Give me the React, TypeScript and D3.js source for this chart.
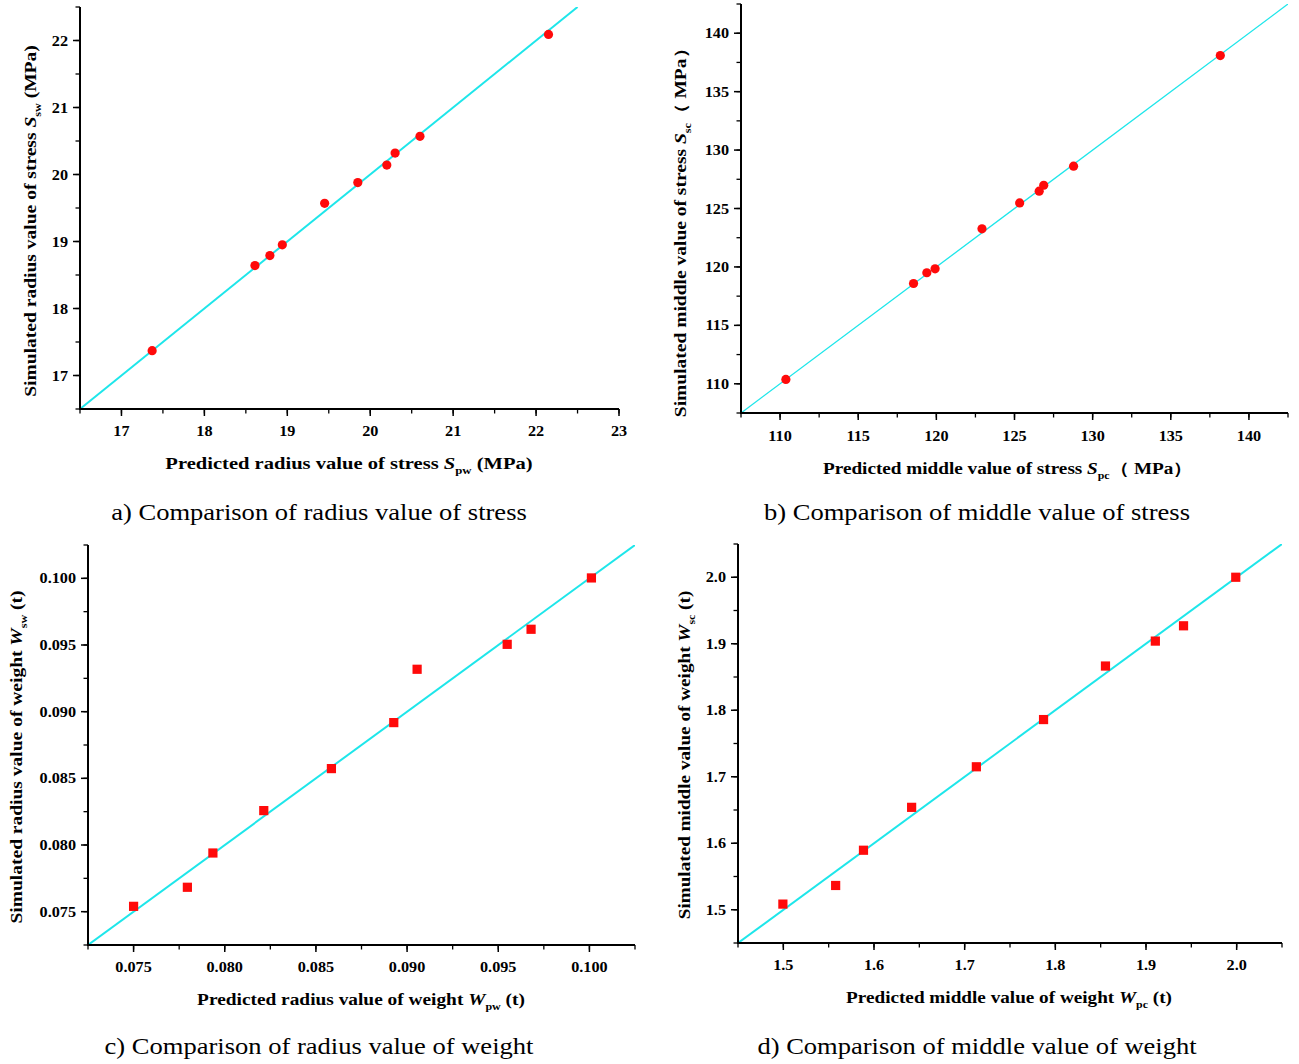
import React from "react";
import * as d3 from "d3";

// ---- data ----
const radiusStressPredicted = [17.37, 18.61, 18.79, 18.94, 19.45, 19.85, 20.2, 20.3, 20.6, 22.15];
const radiusStressSimulated = [17.37, 18.64, 18.79, 18.95, 19.57, 19.88, 20.14, 20.32, 20.57, 22.09];
const middleStressPredicted = [110.37, 118.54, 119.39, 119.92, 122.92, 125.33, 126.58, 126.87, 128.78, 138.17];
const middleStressSimulated = [110.37, 118.58, 119.5, 119.84, 123.26, 125.48, 126.48, 126.99, 128.62, 138.09];
const radiusWeightPredicted = [0.075, 0.07795, 0.07935, 0.08214, 0.08585, 0.08927, 0.09055, 0.09549, 0.0968, 0.10011];
const radiusWeightSimulated = [0.0754, 0.07683, 0.0794, 0.08258, 0.08573, 0.08918, 0.09318, 0.09505, 0.09618, 0.10003];
const middleWeightPredicted = [1.4995, 1.5577, 1.5884, 1.6415, 1.7129, 1.787, 1.8553, 1.9103, 1.9414, 1.999];
const middleWeightSimulated = [1.5085, 1.5365, 1.5895, 1.654, 1.715, 1.786, 1.8665, 1.904, 1.927, 2.0];

const radiusStressXTicks = [17, 18, 19, 20, 21, 22, 23];
const radiusStressYTicks = [17, 18, 19, 20, 21, 22];
const middleStressTicks = [110, 115, 120, 125, 130, 135, 140];
const radiusWeightTicks = [0.075, 0.08, 0.085, 0.09, 0.095, 0.1];
const middleWeightTicks = [1.5, 1.6, 1.7, 1.8, 1.9, 2.0];

const captions = [
  "a) Comparison of radius value of stress",
  "b) Comparison of middle value of stress",
  "c) Comparison of radius value of weight",
  "d) Comparison of middle value of weight",
];

const SERIF = "'Liberation Serif', 'Times New Roman', serif";
const CYAN = "#1ee6ea";
const RED = "#ff0a0a";

type Title = { pre: string; sym: string; sub: string; post: string };

type PanelCfg = {
  id: string;
  xs: number[];
  ys: number[];
  xDomain: [number, number];
  yDomain: [number, number];
  xTicks: number[];
  yTicks: number[];
  minorStep: number;
  fmt: (v: number) => string;
  left: number;
  right: number;
  top: number;
  bottom: number;
  marker: "circle" | "square";
  lineWidth: number;
  xTitle: Title;
  yTitle: Title;
  xTitleX: number;
  xTitleY: number;
  yTitleX: number;
  yTitleY: number;
  titleSize: number;
  xTitleStretch: number;
  yTitleStretch: number;
  tickBaseline: number;
  caption: string;
  capX: number;
  capY: number;
};

const panels: PanelCfg[] = [
  {
    id: "a",
    xs: radiusStressPredicted,
    ys: radiusStressSimulated,
    xDomain: [16.5, 23],
    yDomain: [16.5, 22.5],
    xTicks: radiusStressXTicks,
    yTicks: radiusStressYTicks,
    minorStep: 0.5,
    fmt: d3.format("d"),
    left: 80, right: 619, top: 7, bottom: 409,
    marker: "circle",
    lineWidth: 2,
    xTitle: { pre: "Predicted radius value of stress ", sym: "S", sub: "pw", post: " (MPa)" },
    yTitle: { pre: "Simulated radius value of stress ", sym: "S", sub: "sw", post: " (MPa)" },
    xTitleX: 349, xTitleY: 469, yTitleX: 36, yTitleY: 221,
    titleSize: 17, xTitleStretch: 1.21, yTitleStretch: 1.15,
    tickBaseline: 27,
    caption: captions[0], capX: 319, capY: 520,
  },
  {
    id: "b",
    xs: middleStressPredicted,
    ys: middleStressSimulated,
    xDomain: [107.5, 142.5],
    yDomain: [107.5, 142.5],
    xTicks: middleStressTicks,
    yTicks: middleStressTicks,
    minorStep: 2.5,
    fmt: d3.format("d"),
    left: 741, right: 1288, top: 4, bottom: 413,
    marker: "circle",
    lineWidth: 1.3,
    xTitle: { pre: "Predicted middle value of stress ", sym: "S", sub: "pc", post: "（ MPa）" },
    yTitle: { pre: "Simulated middle value of stress ", sym: "S", sub: "sc", post: "（ MPa）" },
    xTitleX: 1008, xTitleY: 474, yTitleX: 686, yTitleY: 228,
    titleSize: 16, xTitleStretch: 1.2, yTitleStretch: 1.22,
    tickBaseline: 28,
    caption: captions[1], capX: 977, capY: 520,
  },
  {
    id: "c",
    xs: radiusWeightPredicted,
    ys: radiusWeightSimulated,
    xDomain: [0.0725, 0.1025],
    yDomain: [0.0725, 0.1025],
    xTicks: radiusWeightTicks,
    yTicks: radiusWeightTicks,
    minorStep: 0.0025,
    fmt: d3.format(".3f"),
    left: 88, right: 635, top: 545, bottom: 945,
    marker: "square",
    lineWidth: 2,
    xTitle: { pre: "Predicted radius value of weight ", sym: "W", sub: "pw", post: " (t)" },
    yTitle: { pre: "Simulated radius value of weight ", sym: "W", sub: "sw", post: " (t)" },
    xTitleX: 361, xTitleY: 1005, yTitleX: 22, yTitleY: 757,
    titleSize: 16, xTitleStretch: 1.21, yTitleStretch: 1.22,
    tickBaseline: 27,
    caption: captions[2], capX: 319, capY: 1054,
  },
  {
    id: "d",
    xs: middleWeightPredicted,
    ys: middleWeightSimulated,
    xDomain: [1.45, 2.05],
    yDomain: [1.45, 2.05],
    xTicks: middleWeightTicks,
    yTicks: middleWeightTicks,
    minorStep: 0.05,
    fmt: d3.format(".1f"),
    left: 738, right: 1282, top: 544, bottom: 943,
    marker: "square",
    lineWidth: 2,
    xTitle: { pre: "Predicted middle value of weight ", sym: "W", sub: "pc", post: " (t)" },
    yTitle: { pre: "Simulated middle value of weight ", sym: "W", sub: "sc", post: " (t)" },
    xTitleX: 1009, xTitleY: 1003, yTitleX: 690, yTitleY: 755,
    titleSize: 16, xTitleStretch: 1.2, yTitleStretch: 1.2,
    tickBaseline: 27,
    caption: captions[3], capX: 977, capY: 1054,
  },
];

function TitleText({ t, size, x, y, rotate, stretch }: { t: Title; size: number; x: number; y: number; rotate?: boolean; stretch: number }) {
  const subSize = size * 0.62;
  const tf = `translate(${x},${y})${rotate ? " rotate(-90)" : ""} scale(${stretch},1)`;
  return (
    <text x={0} y={0} textAnchor="middle" fontFamily={SERIF} fontWeight="bold" fontSize={size} transform={tf}>
      <tspan>{t.pre}</tspan>
      <tspan fontStyle="italic">{t.sym}</tspan>
      <tspan fontSize={subSize} dy={size * 0.3}>{t.sub}</tspan>
      <tspan dy={-size * 0.3}>{t.post}</tspan>
    </text>
  );
}

function Panel({ p }: { p: PanelCfg }) {
  const x = d3.scaleLinear().domain(p.xDomain).range([p.left, p.right]);
  const y = d3.scaleLinear().domain(p.yDomain).range([p.bottom, p.top]);
  const eps = p.minorStep * 1e-6;
  const xMinor = d3.range(p.xDomain[0], p.xDomain[1] + eps, p.minorStep);
  const yMinor = d3.range(p.yDomain[0], p.yDomain[1] + eps, p.minorStep);
  const lo = Math.max(p.xDomain[0], p.yDomain[0]);
  const hi = Math.min(p.xDomain[1], p.yDomain[1]);
  const line = d3.line<number>().x((d) => x(d)).y((d) => y(d));
  const pts = p.xs.map((v, i) => [v, p.ys[i]] as [number, number]);
  const clipId = `clip-${p.id}`;
  const axisW = 2;
  const tickStretch = 1.08;
  return (
    <g>
      <defs>
        <clipPath id={clipId}>
          <rect x={p.left} y={p.top} width={p.right - p.left} height={p.bottom - p.top} />
        </clipPath>
      </defs>
      {/* fit line y = x */}
      <path d={line([lo, hi]) || ""} stroke={CYAN} strokeWidth={p.lineWidth} fill="none" clipPath={`url(#${clipId})`} />
      {/* points */}
      {pts.map(([a, b], i) =>
        p.marker === "circle" ? (
          <circle key={i} cx={x(a)} cy={y(b)} r={4.6} fill={RED} />
        ) : (
          <rect key={i} x={x(a) - 4.6} y={y(b) - 4.6} width={9.2} height={9.2} fill={RED} />
        )
      )}
      {/* axes */}
      <line x1={p.left} x2={p.right} y1={p.bottom} y2={p.bottom} stroke="#000" strokeWidth={axisW} />
      <line x1={p.left} x2={p.left} y1={p.top} y2={p.bottom + 1} stroke="#000" strokeWidth={axisW} />
      {xMinor.map((v, i) => (
        <line key={"xm" + i} x1={x(v)} x2={x(v)} y1={p.bottom} y2={p.bottom + 4.5} stroke="#000" strokeWidth={1.3} />
      ))}
      {yMinor.map((v, i) => (
        <line key={"ym" + i} x1={p.left} x2={p.left - 4.5} y1={y(v)} y2={y(v)} stroke="#000" strokeWidth={1.3} />
      ))}
      {p.xTicks.map((v, i) => (
        <g key={"xt" + i}>
          <line x1={x(v)} x2={x(v)} y1={p.bottom} y2={p.bottom + 7} stroke="#000" strokeWidth={1.5} />
          <text
            transform={`translate(${x(v)},${p.bottom + p.tickBaseline}) scale(${tickStretch},1)`}
            textAnchor="middle"
            fontFamily={SERIF}
            fontWeight="bold"
            fontSize={15}
          >
            {p.fmt(v)}
          </text>
        </g>
      ))}
      {p.yTicks.map((v, i) => (
        <g key={"yt" + i}>
          <line x1={p.left} x2={p.left - 7} y1={y(v)} y2={y(v)} stroke="#000" strokeWidth={1.5} />
          <text
            transform={`translate(${p.left - 12},${y(v) + 5}) scale(${tickStretch},1)`}
            textAnchor="end"
            fontFamily={SERIF}
            fontWeight="bold"
            fontSize={15}
          >
            {p.fmt(v)}
          </text>
        </g>
      ))}
      <TitleText t={p.xTitle} size={p.titleSize} x={p.xTitleX} y={p.xTitleY} stretch={p.xTitleStretch} />
      <TitleText t={p.yTitle} size={p.titleSize} x={p.yTitleX} y={p.yTitleY} rotate stretch={p.yTitleStretch} />
      <text
        transform={`translate(${p.capX},${p.capY}) scale(1.18,1)`}
        textAnchor="middle"
        fontFamily={SERIF}
        fontSize={22.5}
      >
        {p.caption}
      </text>
    </g>
  );
}

export default function App() {
  return (
    <svg
      width={1299}
      height={1064}
      viewBox="0 0 1299 1064"
      style={{ position: "absolute", left: 0, top: 0, background: "#fff" }}
    >
      <rect width={1299} height={1064} fill="#fff" />
      {panels.map((p) => (
        <Panel key={p.id} p={p} />
      ))}
    </svg>
  );
}
